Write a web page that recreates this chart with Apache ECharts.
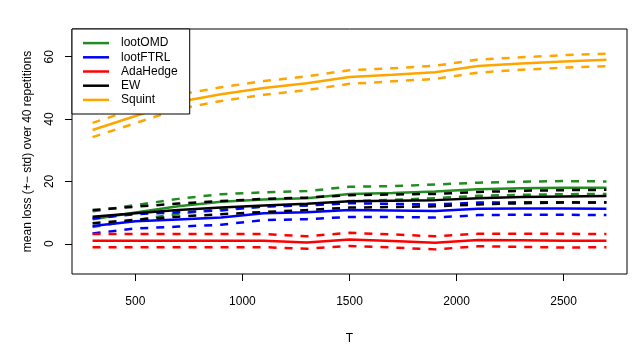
<!DOCTYPE html>
<html>
<head>
<meta charset="utf-8">
<script src="https://cdn.jsdelivr.net/npm/echarts@6/dist/echarts.min.js"></script>
<style>
  html, body { margin: 0; padding: 0; background: #fff; }
  #chart { width: 634px; height: 346px; }
</style>
</head>
<body>
<div id="chart"></div>
<script>
// T values (x)
let T = [300, 500, 700, 900, 1100, 1300, 1500, 1700, 1900, 2100, 2300, 2500, 2700];

// mean loss per method
let lootOMD = [7.9, 10.0, 12.0, 13.5, 14.2, 14.6, 16.0, 16.3, 16.8, 17.5, 17.8, 18.0, 18.0];
let lootFTRL = [5.7, 7.2, 7.8, 8.4, 9.8, 10.1, 10.8, 10.7, 10.5, 11.2, 11.3, 11.3, 11.2];
let adaHedge = [1.0, 1.0, 1.0, 1.0, 1.0, 0.4, 1.4, 0.9, 0.3, 1.2, 1.1, 1.0, 1.0];
let ew = [8.7, 9.8, 10.8, 11.6, 12.3, 12.8, 13.6, 13.8, 14.0, 14.6, 15.0, 15.2, 15.3];
let squint = [36.5, 41.0, 45.5, 48.0, 50.0, 51.5, 53.5, 54.2, 55.0, 57.0, 57.8, 58.5, 59.0];

// std per method
let lootOMDSd = [2.5, 2.4, 2.4, 2.4, 2.3, 2.3, 2.3, 2.2, 2.2, 2.1, 2.1, 2.1, 2.0];
let lootFTRLSd = [2.4, 2.3, 2.3, 2.3, 2.2, 2.2, 2.2, 2.1, 2.1, 2.0, 2.0, 2.0, 2.0];
let adaHedgeSd = [2.1, 2.1, 2.1, 2.1, 2.1, 2.0, 2.1, 2.1, 2.1, 2.0, 2.1, 2.2, 2.1];
let ewSd = [2.1, 2.1, 2.1, 2.1, 2.1, 2.0, 2.0, 2.0, 2.0, 2.0, 2.0, 2.0, 2.0];
let squintSd = [2.3, 2.3, 2.3, 2.2, 2.2, 2.2, 2.2, 2.1, 2.1, 2.1, 2.0, 2.0, 2.0];

let xTicks = [500, 1000, 1500, 2000, 2500];
let yTicks = [0, 20, 40, 60];

let methods = [
    {name: 'lootOMD', mean: lootOMD, sd: lootOMDSd, color: '#228B22'},
    {name: 'lootFTRL', mean: lootFTRL, sd: lootFTRLSd, color: '#0000FF'},
    {name: 'AdaHedge', mean: adaHedge, sd: adaHedgeSd, color: '#FF0000'},
    {name: 'EW', mean: ew, sd: ewSd, color: '#000000'},
    {name: 'Squint', mean: squint, sd: squintSd, color: '#FFA500'}
];

function pairs(vals){
    return T.map((t, i) => [t, vals[i]]);
}

let series = [];
methods.forEach(m => {
    let upper = m.mean.map((v, i) => +(v + m.sd[i]).toFixed(2));
    let lower = m.mean.map((v, i) => +(v - m.sd[i]).toFixed(2));
    series.push({
        name: m.name, type: 'line', showSymbol: false, silent: true,
        data: pairs(m.mean),
        lineStyle: {color: m.color, width: 2.5},
        itemStyle: {color: m.color}
    });
    [upper, lower].forEach((b, k) => {
        series.push({
            name: m.name + (k === 0 ? ' +sd' : ' -sd'), type: 'line', showSymbol: false, silent: true,
            data: pairs(b),
            lineStyle: {color: m.color, width: 2.5, type: [8, 8]},
            itemStyle: {color: m.color}
        });
    });
});

let font = 'Liberation Sans, Arial, sans-serif';

let option = {
    animation: false,
    backgroundColor: '#fff',
    grid: {
        left: 72, right: 7, top: 29, bottom: 72,
        outerBoundsMode: 'none',
        show: true, borderColor: '#000', borderWidth: 1, backgroundColor: 'transparent'
    },
    legend: {
        data: methods.map(m => m.name),
        orient: 'vertical',
        left: 72, top: 29,
        padding: [7, 12, 7, 11],
        itemGap: 0,
        itemWidth: 26, itemHeight: 2.5,
        icon: 'rect',
        backgroundColor: '#fff',
        borderColor: '#000', borderWidth: 1,
        textStyle: {fontFamily: font, fontSize: 12, color: '#000', lineHeight: 14.2, padding: [0, 0, 0, 7]}
    },
    xAxis: {
        type: 'value', min: 204, max: 2796,
        name: 'T', nameLocation: 'middle', nameGap: 59,
        nameTextStyle: {fontFamily: font, fontSize: 12, color: '#000'},
        axisLine: {show: false, onZero: false},
        splitLine: {show: false},
        axisTick: {show: true, length: 7, lineStyle: {color: '#000'}, customValues: xTicks},
        axisLabel: {fontFamily: font, fontSize: 12, color: '#000', margin: 22,
            customValues: xTicks, formatter: v => String(v)}
    },
    yAxis: {
        type: 'value', min: -9.7, max: 68.9,
        name: 'mean loss (+− std) over 40 repetitions', nameLocation: 'middle', nameGap: 38,
        nameTextStyle: {fontFamily: font, fontSize: 12, color: '#000'},
        axisLine: {show: false, onZero: false},
        splitLine: {show: false},
        axisTick: {show: true, length: 7, lineStyle: {color: '#000'}, customValues: yTicks},
        axisLabel: {fontFamily: font, fontSize: 12, color: '#000', rotate: 90, margin: 16,
            customValues: yTicks, formatter: v => String(v)}
    },
    series: series
};

let chart = echarts.init(document.getElementById('chart'));
chart.setOption(option, true);
</script>
</body>
</html>
